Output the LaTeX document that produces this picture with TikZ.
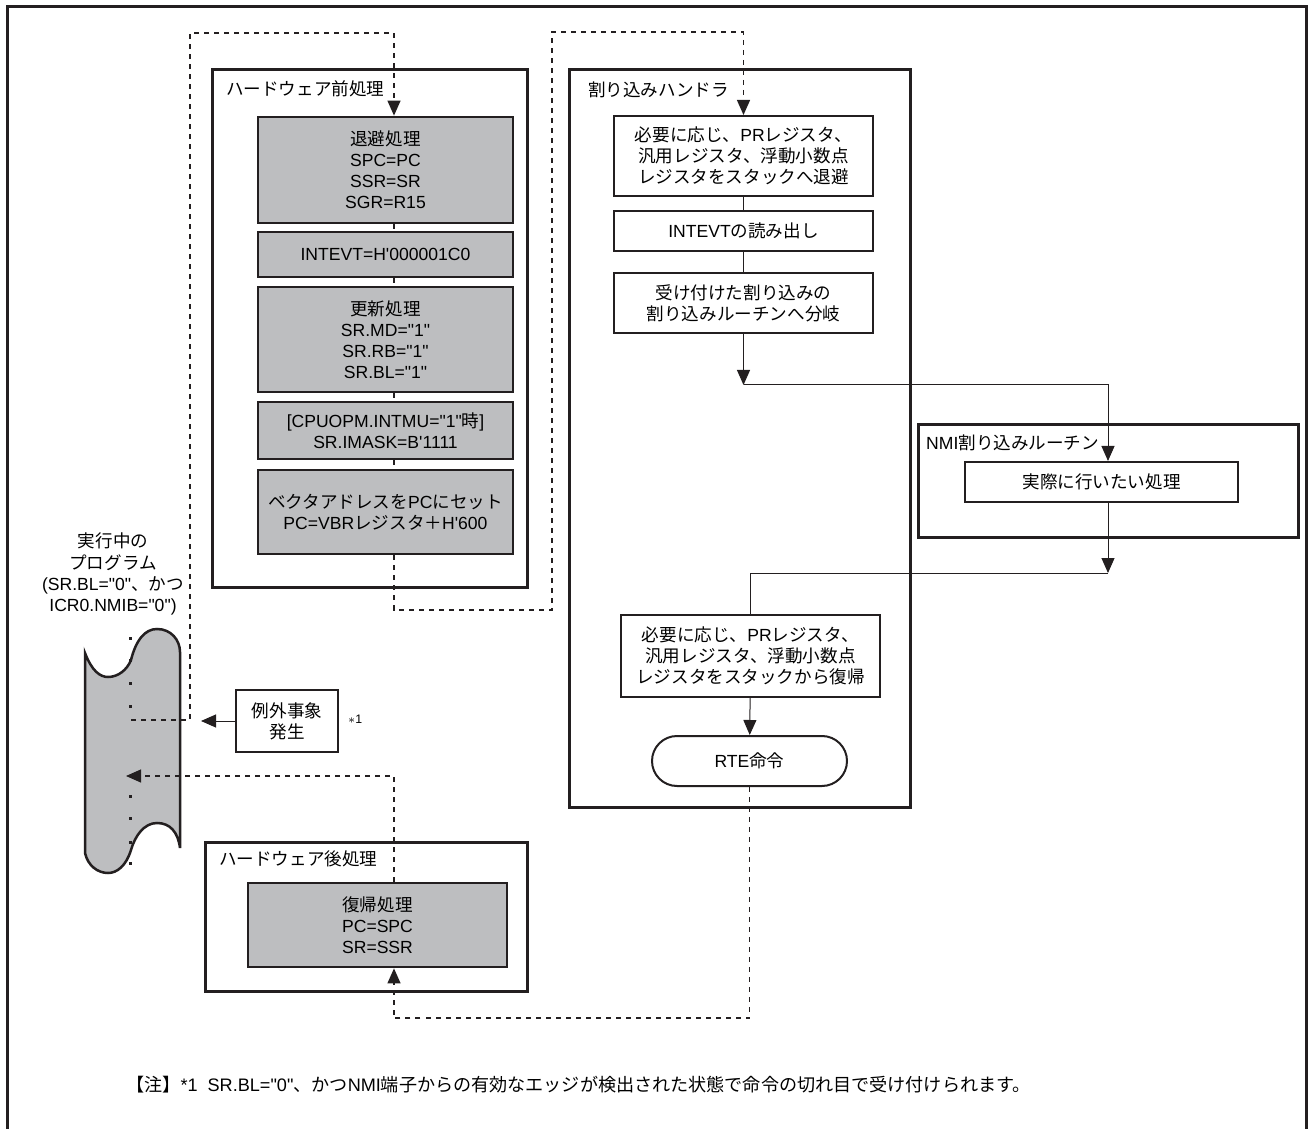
\documentclass[tikz,border=0pt]{standalone}
\usepackage{fontspec}
\setmainfont{Liberation Sans}
\newfontfamily\jpfont{Noto Sans CJK JP}
\usetikzlibrary{arrows.meta}

% switch to the Japanese font for CJK characters
\XeTeXinterchartokenstate=1
\newXeTeXintercharclass\jpclass
\newcount\cjkcode
\cjkcode="3000
\loop \XeTeXcharclass\cjkcode=\jpclass \advance\cjkcode by 1 \ifnum\cjkcode<"A000 \repeat
\cjkcode="FF00
\loop \XeTeXcharclass\cjkcode=\jpclass \advance\cjkcode by 1 \ifnum\cjkcode<"FFF0 \repeat
\XeTeXinterchartoks 0 \jpclass = {\jpfont}
\XeTeXinterchartoks 4095 \jpclass = {\jpfont}
\XeTeXinterchartoks \jpclass 0 = {\rmfamily}
\XeTeXinterchartoks 4095 0 = {\rmfamily}

\newcommand\dquo{\textquotedbl}
\newcommand\squo{\textquotesingle}
\newdimen\unitpx \unitpx=0.2mm
\definecolor{boxgray}{HTML}{BDBEC0}
\definecolor{ink}{HTML}{231F20}

\begin{document}
\begin{tikzpicture}[x=0.2mm, y=-0.2mm,
      font=\fontsize{10}{12}\selectfont,
      grp/.style={rectangle, draw=ink, line width=0.6mm, inner sep=0pt},
      gbox/.style={rectangle, draw=ink, line width=0.55mm, fill=boxgray,
        minimum width=255\unitpx, align=center, inner sep=0pt},
      wbox/.style={rectangle, draw=ink, line width=0.4mm, fill=white,
        minimum width=259\unitpx, align=center, inner sep=0pt},
      tip/.style={-{Triangle[length=3mm, width=2.6mm]}},
      arrow/.style={tip, draw=ink, line width=0.2mm},
      flow/.style={draw=ink, line width=0.2mm},
      dline/.style={draw=ink, line width=0.25mm, dash pattern=on 1mm off 1mm}
    ]
    \useasboundingbox (0,0) rectangle (1309,1129);
    \draw[ink, line width=0.6mm] (7,1129) -- (7,7) -- (1306,7) -- (1306,1129);

    % running program
    \node[align=center] (proglbl) at (113,574)
      {実行中の\\プログラム\\(SR.BL=\dquo{}0\dquo{}、かつ\\ICR0.NMIB=\dquo{}0\dquo{})};
    \draw[ink, fill=boxgray, line width=0.5mm]
      (85,653) .. controls (92,671) and (100,677) .. (108,677)
      .. controls (118,677) and (127,670) .. (131,660)
      .. controls (136,640) and (145,629) .. (157,629)
      .. controls (171,629) and (180,640) .. (180,652)
      -- (180,848)
      .. controls (178,832) and (170,823) .. (157,823)
      .. controls (144,823) and (135,836) .. (131,850)
      .. controls (126,866) and (117,873) .. (108,873)
      .. controls (98,873) and (88,866) .. (85,853)
      -- cycle;
    \foreach \y in {638,660,683,706,796,818,842,863} {
      \fill[ink] (128.5,\y-1.5) rectangle ++(3,3);
    }
    \coordinate (brk) at (131,720);
    \coordinate (ret) at (126,776);
    \coordinate (hit) at (201,721);
    \coordinate (prex) at (394,0);
    \coordinate (nmix) at (1108,0);

    % hardware pre-processing
    \node[grp, minimum width=315\unitpx, minimum height=517\unitpx] (pre) at (369.5,328.5) {};
    \node[anchor=west] (prelbl) at (220,89) {ハードウェア前処理};
    \node[gbox, minimum height=106\unitpx] (save) at (385.5,170)
      {退避処理\\SPC=PC\\SSR=SR\\SGR=R15};
    \node[gbox, minimum height=45\unitpx] (intevt) at (385.5,254.5)
      {INTEVT=H\squo{}000001C0};
    \node[gbox, minimum height=105\unitpx] (update) at (385.5,339.5)
      {更新処理\\SR.MD=\dquo{}1\dquo{}\\SR.RB=\dquo{}1\dquo{}\\SR.BL=\dquo{}1\dquo{}};
    \node[gbox, minimum height=57\unitpx] (imask) at (385.5,430.5)
      {[CPUOPM.INTMU=\dquo{}1\dquo{}時]\\SR.IMASK=B\squo{}1111};
    \node[gbox, minimum height=84\unitpx] (vector) at (385.5,512)
      {ベクタアドレスをPCにセット\\PC=VBRレジスタ＋H\squo{}600};

    % interrupt handler
    \node[grp, minimum width=341\unitpx, minimum height=737\unitpx] (hnd) at (739.5,438.5) {};
    \node[anchor=west] (hndlbl) at (582,90) {割り込みハンドラ};
    \node[wbox, minimum height=80\unitpx] (push) at (743.5,156)
      {必要に応じ、PRレジスタ、\\汎用レジスタ、浮動小数点\\レジスタをスタックへ退避};
    \node[wbox, minimum height=40\unitpx] (readevt) at (743.5,231) {INTEVTの読み出し};
    \node[wbox, minimum height=60\unitpx] (branch) at (743.5,303)
      {受け付けた割り込みの\\割り込みルーチンへ分岐};
    \node[wbox, minimum height=82\unitpx] (pop) at (750.5,656)
      {必要に応じ、PRレジスタ、\\汎用レジスタ、浮動小数点\\レジスタをスタックから復帰};
    \node[wbox, minimum width=195\unitpx, minimum height=50\unitpx,
      rounded corners=25\unitpx] (rte) at (749.5,761) {RTE命令};

    % NMI routine
    \node[grp, minimum width=380\unitpx, minimum height=112\unitpx] (nmi) at (1108,481) {};
    \node[anchor=west] (nmilbl) at (920,443) {NMI割り込みルーチン};
    \node[wbox, minimum width=273\unitpx, minimum height=40\unitpx] (nmiwork) at (1101.5,482)
      {実際に行いたい処理};

    % hardware post-processing
    \node[grp, minimum width=322\unitpx, minimum height=149\unitpx] (post) at (366,916.5) {};
    \node[anchor=west] (postlbl) at (213,859) {ハードウェア後処理};
    \node[gbox, minimum width=259\unitpx, minimum height=84\unitpx] (restore) at (377.5,925)
      {復帰処理\\PC=SPC\\SR=SSR};

    % exception event
    \node[wbox, minimum width=102\unitpx, minimum height=62\unitpx] (exc) at (287,721)
      {例外事象\\発生};
    \node[anchor=west, font=\scriptsize] (excnote) at (342,719) {$\ast$1};
    \draw[arrow] (exc) -- (hit);

    % dashed flow
    \draw[dline, tip] (brk) -- (190,720) -- (190,33) -- (394,33) -- (save.north -| prex);
    \draw[dline] (save.south -| prex) -- (intevt.north -| prex)
      (intevt.south -| prex) -- (update.north -| prex)
      (update.south -| prex) -- (imask.north -| prex)
      (imask.south -| prex) -- (vector.north -| prex);
    \draw[dline, tip] (vector.south -| prex) -- (394,610) -- (552,610) -- (552,32)
      -- (push.north |- 0,32) -- (push.north);
    \draw[dline, tip] (rte.south) -- (rte.south |- 0,1018) -- (394,1018) -- (restore.south -| prex);
    \draw[dline, tip] (restore.north -| prex) -- (394,776) -- (ret);

    % solid flow
    \draw[flow] (push) -- (readevt);
    \draw[flow] (readevt) -- (branch);
    \coordinate (junc1) at (743.5,385);
    \coordinate (junc2) at (1108,573);
    \draw[arrow] (branch) -- (junc1);
    \draw[arrow] (junc1) -| (nmiwork.north -| nmix);
    \draw[arrow] (nmiwork.south -| nmix) -- (junc2);
    \draw[flow] (junc2) -| (pop.north);
    \draw[arrow] (pop) -- (rte);

    \node[anchor=west, font=\fontsize{10.3}{12}\selectfont] (footnote) at (120,1085)
      {【注】*1~~SR.BL=\dquo{}0\dquo{}、かつNMI端子からの有効なエッジが検出された状態で命令の切れ目で受け付けられます。};
  \end{tikzpicture}
\end{document}
